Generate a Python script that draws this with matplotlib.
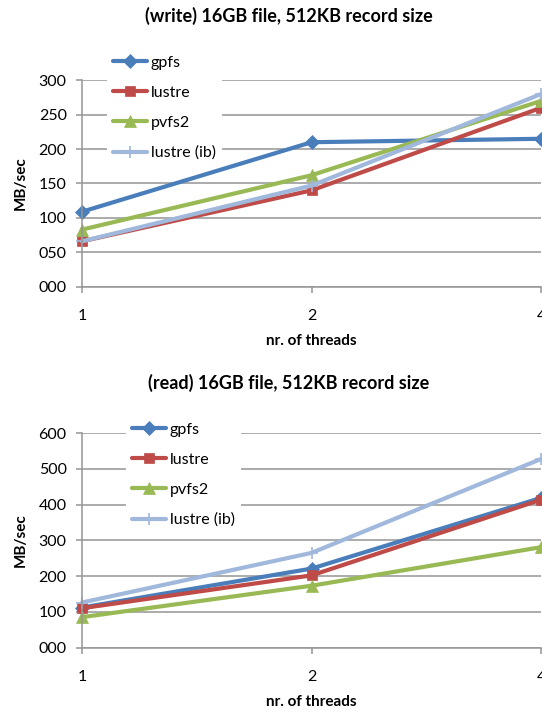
import matplotlib
matplotlib.use("Agg")
import matplotlib.pyplot as plt
from matplotlib.ticker import FormatStrFormatter

threads = ["1", "2", "4"]
series_names = ["gpfs", "lustre", "pvfs2", "lustre (ib)"]

write_gpfs = [109, 210, 215]
write_lustre = [66, 140, 260]
write_pvfs2 = [83, 162, 270]
write_lustre_ib = [66, 147, 280]

read_gpfs = [112, 221, 419]
read_lustre = [110, 202, 414]
read_pvfs2 = [85, 173, 281]
read_lustre_ib = [126, 265, 528]

colors = ["#4a7ebb", "#be4b48", "#98b954", "#a0b8dc"]
markers = ["D", "s", "^", "+"]
msizes = [7.5, 7.5, 8.5, 9]

plt.rcParams["font.family"] = ["Lato", "DejaVu Sans"]
W, H = 542, 715
fig = plt.figure(figsize=(W / 100, H / 100), dpi=100)


def box(x0, y0, x1, y1):
    # pixel box (top-left origin) -> figure fraction
    return [x0 / W, 1 - y1 / H, (x1 - x0) / W, (y1 - y0) / H]


def panel(rect, data, ymax, step, title, title_y, leg_xy):
    ax = fig.add_axes(box(*rect))
    x = range(len(threads))
    for vals, name, c, m, ms in zip(data, series_names, colors, markers, msizes):
        ax.plot(x, vals, color=c, lw=3, marker=m, ms=ms, mew=1.2 if m == "+" else 0.5,
                mec=c, label=name, clip_on=False, solid_capstyle="round")
    ax.set_xlim(0, len(threads) - 1)
    ax.set_ylim(0, ymax)
    ax.set_xticks(list(x))
    ax.set_xticklabels(threads)
    ax.set_yticks(range(0, ymax + 1, step))
    ax.yaxis.set_major_formatter(FormatStrFormatter("%03d"))
    ax.grid(axis="y", color="#959595", lw=1.1)
    ax.set_axisbelow(True)
    for s in ["top", "right"]:
        ax.spines[s].set_visible(False)
    for s in ["left", "bottom"]:
        ax.spines[s].set_color("#959595")
        ax.spines[s].set_linewidth(1.1)
    ax.tick_params(axis="y", length=4, width=1.1, color="#959595", pad=7, labelsize=11.5)
    ax.tick_params(axis="x", length=4, width=1.1, color="#959595", pad=12, labelsize=11.5)
    ax.set_ylabel("MB/sec", fontsize=11, fontweight="bold", labelpad=8)
    ax.set_xlabel("nr. of threads", fontsize=11, fontweight="bold", labelpad=8)
    fig.text(289 / W, 1 - title_y / H, title, ha="center", va="center",
             fontsize=13, fontweight="bold")
    leg = ax.legend(loc="upper left", bbox_to_anchor=(leg_xy[0] / W, 1 - leg_xy[1] / H),
                    bbox_transform=fig.transFigure, frameon=True, fancybox=False,
                    facecolor="white", edgecolor="none", framealpha=1, fontsize=11.5,
                    handlelength=2.1, handletextpad=0.25, labelspacing=1.0,
                    borderpad=0.4, borderaxespad=0)
    leg.get_frame().set_linewidth(0)
    return ax


panel((82, 80.3, 541, 286.7),
      [write_gpfs, write_lustre, write_pvfs2, write_lustre_ib],
      300, 50, "(write) 16GB file, 512KB record size", 16, (107, 49))
panel((82, 433.3, 541, 647.5),
      [read_gpfs, read_lustre, read_pvfs2, read_lustre_ib],
      600, 100, "(read) 16GB file, 512KB record size", 383, (126, 416))

fig.savefig("out.png", dpi=100)
